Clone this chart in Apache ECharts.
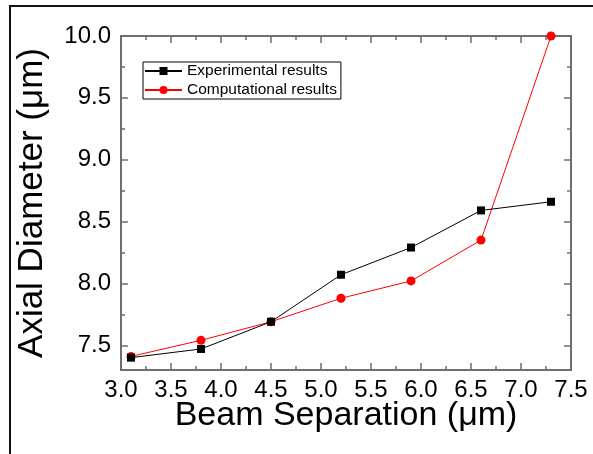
<!DOCTYPE html>
<html lang="en">
<head>
  <meta charset="UTF-8">
  <title>Axial Diameter vs Beam Separation</title>
  <script src="https://cdn.jsdelivr.net/npm/echarts@6.0.0/dist/echarts.min.js"></script>
  <style>
    html, body { margin: 0; padding: 0; background: #fff; }
    #main { width: 593px; height: 454px; }
  </style>
</head>
<body>
  <div id="main"></div>
  <script type="text/javascript">
    // beam separation (um)
    var separation = [3.1, 3.8, 4.5, 5.2, 5.9, 6.6, 7.3];
    // axial diameter (um)
    var experimental = [7.40, 7.47, 7.69, 8.07, 8.29, 8.59, 8.66];
    var computational = [7.41, 7.54, 7.69, 7.88, 8.02, 8.35, 10.0];
    var yLabels = [7.5, 8.0, 8.5, 9.0, 9.5, 10.0];
    var yMinor = [7.75, 8.25, 8.75, 9.25, 9.75];

    var font = 'Arial, "Liberation Sans", sans-serif';
    var axisGrey = '#6e6e6e';

    function pairs(xs, ys) {
      return xs.map(function (x, i) { return [x, ys[i]]; });
    }
    function oneDecimal(v) { return v.toFixed(1); }

    var myChart = echarts.init(document.getElementById('main'));

    var xBase = {
      type: 'value', min: 3.0, max: 7.5, interval: 0.5,
      axisLine: { show: true, onZero: false, lineStyle: { color: axisGrey, width: 2 } },
      axisTick: { show: true, inside: true, length: 7, lineStyle: { color: axisGrey, width: 1.5 } },
      minorTick: { show: true, splitNumber: 2, length: 4, lineStyle: { color: axisGrey, width: 1.5 } },
      splitLine: { show: false }
    };

    var option = {
      animation: false,
      textStyle: { fontFamily: font },
      grid: { left: 121, top: 36, right: 22, bottom: 84 },
      graphic: [{
        type: 'polyline',
        shape: { points: [[10, 460], [10, 6], [600, 6]] },
        style: { stroke: '#111', lineWidth: 2, fill: null },
        z: -1
      }],
      legend: {
        left: 143, top: 62,
        orient: 'vertical',
        borderColor: '#000', borderWidth: 1,
        padding: [1, 4, 1, 1],
        itemGap: 3,
        itemWidth: 37, itemHeight: 10,
        textStyle: { fontFamily: font, fontSize: 15.5, color: '#000' },
        data: ['Experimental results', 'Computational results']
      },
      xAxis: [
        Object.assign({}, xBase, {
          position: 'bottom',
          name: 'Beam Separation (\u03bcm)',
          nameLocation: 'middle', nameGap: 29,
          nameMoveOverlap: false,
          nameTextStyle: { fontFamily: font, fontSize: 34, color: '#000' },
          axisLabel: { fontFamily: font, fontSize: 24, color: '#000', margin: 8, formatter: oneDecimal }
        }),
        Object.assign({}, xBase, { position: 'top', axisLabel: { show: false } })
      ],
      yAxis: [
        {
          type: 'value', min: 7.3, max: 10.0, position: 'left',
          name: 'Axial Diameter (\u03bcm)',
          nameLocation: 'middle', nameGap: 71,
          nameMoveOverlap: false,
          nameTextStyle: { fontFamily: font, fontSize: 35, color: '#000' },
          axisLine: { show: true, onZero: false, lineStyle: { color: axisGrey, width: 2 } },
          axisTick: { show: true, inside: true, length: 7, customValues: yLabels, lineStyle: { color: axisGrey, width: 1.5 } },
          axisLabel: { fontFamily: font, fontSize: 24, color: '#000', margin: 10, customValues: yLabels, formatter: oneDecimal },
          splitLine: { show: false }
        },
        {
          type: 'value', min: 7.3, max: 10.0, position: 'right',
          axisLine: { show: true, onZero: false, lineStyle: { color: axisGrey, width: 2 } },
          axisTick: { show: true, inside: true, length: 7, customValues: yLabels, lineStyle: { color: axisGrey, width: 1.5 } },
          axisLabel: { show: false, customValues: yLabels },
          splitLine: { show: false }
        },
        {
          type: 'value', min: 7.3, max: 10.0, position: 'left',
          axisLine: { show: false },
          axisTick: { show: true, inside: true, length: 4, customValues: yMinor, lineStyle: { color: axisGrey, width: 1.5 } },
          axisLabel: { show: false, customValues: yMinor },
          splitLine: { show: false }
        },
        {
          type: 'value', min: 7.3, max: 10.0, position: 'right',
          axisLine: { show: false },
          axisTick: { show: true, inside: true, length: 4, customValues: yMinor, lineStyle: { color: axisGrey, width: 1.5 } },
          axisLabel: { show: false, customValues: yMinor },
          splitLine: { show: false }
        }
      ],
      series: [
        {
          name: 'Experimental results',
          type: 'line',
          xAxisIndex: 0, yAxisIndex: 0,
          data: pairs(separation, experimental),
          symbol: 'rect', symbolSize: 8,
          itemStyle: { color: '#000' },
          lineStyle: { color: '#000', width: 1 },
          z: 3
        },
        {
          name: 'Computational results',
          type: 'line',
          xAxisIndex: 0, yAxisIndex: 0,
          data: pairs(separation, computational),
          symbol: 'circle', symbolSize: 9,
          itemStyle: { color: '#ff0000' },
          lineStyle: { color: '#ff0000', width: 1 },
          clip: false,
          z: 2
        }
      ]
    };

    myChart.setOption(option);
  </script>
</body>
</html>
